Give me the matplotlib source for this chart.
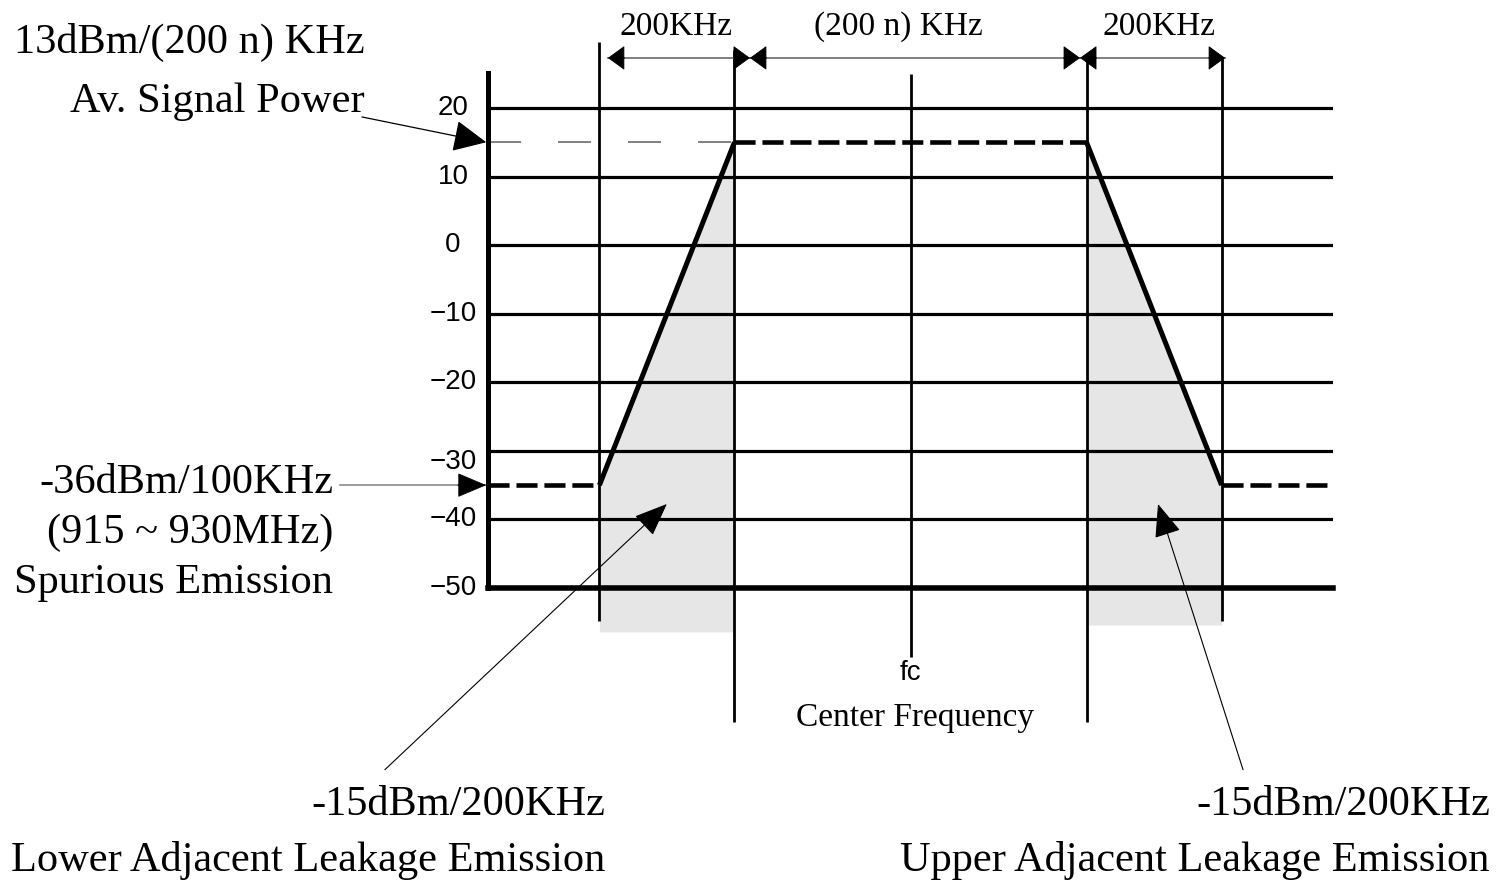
import matplotlib.pyplot as plt
from matplotlib.transforms import offset_copy

plt.rcParams['font.family'] = ['Liberation Serif', 'DejaVu Serif']

# уровни (дБм) и подписи оси
db_ticks = [20, 10, 0, -10, -20, -30, -40, -50]
db_labels = ['20', '10', '0', '\u221210', '\u221220', '\u221230', '\u221240', '\u221250']

# границы полос: нижняя внешняя, нижняя внутренняя, верхняя внутренняя, верхняя внешняя
band_edges = [-1.767, -1.0, 1.0, 1.767]
fc = 0.0
signal_level = 15
spurious_level = -35

band_labels = ['200KHz', '(200 n) KHz', '200KHz']

W, H = 1509, 881
fig = plt.figure(figsize=(W / 100, H / 100), dpi=100)
ax = fig.add_axes([488 / W, 1 - 588 / H, 845 / W, (588 - 73) / H])
x_lo, x_hi = -2.4, 2.4
ax.set_xlim(x_lo, x_hi)
ax.set_ylim(-50, 25.1)
ax.set_xticks([])
ax.set_yticks([])
for s in ['top', 'right']:
    ax.spines[s].set_visible(False)
ax.spines['left'].set_linewidth(3.6)
ax.spines['bottom'].set_linewidth(4.0)
ax.spines['left'].set_zorder(4)

# серые области утечки в соседние каналы
fill_col = '#e6e6e6'
ax.fill_between([band_edges[0], band_edges[1]], [spurious_level, signal_level], -56.4,
                color=fill_col, lw=0, zorder=0.5, clip_on=False)
ax.fill_between([band_edges[2], band_edges[3]], [signal_level, spurious_level], -55.4,
                color=fill_col, lw=0, zorder=0.5, clip_on=False)

# сетка
ax.hlines(db_ticks[:-1], x_lo, x_hi, colors='k', lw=2.3, zorder=2)
vx = band_edges + [fc]
v_top = [29.6, 28.5, 27.4, 27.4, 25.0]
v_bot = [-54.8, -69.5, -69.5, -54.8, -60.1]
vl = ax.vlines(vx, v_bot, v_top, colors='k', lw=2.0, zorder=2)
vl.set_clip_on(False)

# тонкая пунктирная линия уровня сигнала
ax.plot([x_lo, band_edges[1]], [signal_level, signal_level], color='#808080', lw=1.4,
        dashes=(17, 19), zorder=1.5)

# маска спектра
mask_x = [x_lo, band_edges[0], band_edges[1], band_edges[2], band_edges[3], x_hi]
mask_y = [spurious_level, spurious_level, signal_level, signal_level, spurious_level, spurious_level]
for i in range(len(mask_x) - 1):
    if i % 2 == 0:
        ax.plot(mask_x[i:i + 2], mask_y[i:i + 2], color='k', lw=3.3, dashes=(4.6, 1.5),
                dash_capstyle='butt', zorder=3)
    else:
        ax.plot(mask_x[i:i + 2], mask_y[i:i + 2], color='k', lw=3.6, solid_capstyle='butt', zorder=3)


def head(x, y, dx, dy, style):
    ax.annotate('', xy=(x, y), xytext=(dx, dy), textcoords='offset points',
                arrowprops=dict(arrowstyle=style, color='k', lw=0.6, shrinkA=0, shrinkB=0,
                                mutation_scale=10),
                annotation_clip=False, zorder=5)


# размерные стрелки сверху
dim_y = 27.3
dim_x = [-1.719, -0.912, 0.963, 1.787]
ax.plot([dim_x[0], dim_x[-1]], [dim_y, dim_y], color='#808080', lw=1.4, clip_on=False, zorder=2)
dim_style = '-|>,head_length=1.1,head_width=0.8'
for i in range(len(dim_x) - 1):
    head(dim_x[i], dim_y, 12, 0, dim_style)
    head(dim_x[i + 1], dim_y, -12, 0, dim_style)
label_x = [-1.33, -0.07, 1.41]
for lx, lab in zip(label_x, band_labels):
    ax.text(lx, 31.8, lab, ha='center', va='center', fontsize=24, clip_on=False)

# подписи оси
ytr = ax.get_yaxis_transform()
nudge = {-30: -11}
for v, lab in zip(db_ticks, db_labels):
    tr = offset_copy(ytr, fig=fig, x=0, y=nudge.get(v, 0), units='dots')
    ax.text(-35 / 845, v, lab, transform=tr, ha='center', va='center', fontsize=20,
            family=['Liberation Sans', 'DejaVu Sans'], clip_on=False)

# указатели
axis_edge = -2.41
ax.annotate('', xy=(axis_edge, signal_level), xytext=(-3.116, 18.69),
            arrowprops=dict(arrowstyle='-|>,head_length=2.1,head_width=1.0', color='k', lw=0.9,
                            shrinkA=0, shrinkB=0, mutation_scale=10),
            annotation_clip=False, zorder=5)
ax.plot([-3.241, axis_edge], [spurious_level, spurious_level], color='#808080', lw=1.1,
        clip_on=False, zorder=4)
head(axis_edge, spurious_level, -20.5, 0, '-|>,head_length=1.9,head_width=0.8')
ax.annotate('', xy=(-1.384, -37.75), xytext=(-2.986, -76.5),
            arrowprops=dict(arrowstyle='-|>,head_length=2.1,head_width=0.85', color='k', lw=0.8,
                            shrinkA=0, shrinkB=0, mutation_scale=10),
            annotation_clip=False, zorder=5)
ax.annotate('', xy=(1.406, -37.75), xytext=(1.889, -76.5),
            arrowprops=dict(arrowstyle='-|>,head_length=2.1,head_width=0.85', color='k', lw=0.8,
                            shrinkA=0, shrinkB=0, mutation_scale=10),
            annotation_clip=False, zorder=5)


def ftext(x, y, s, **kw):
    fig.text(x / W, 1 - y / H, s, va='center', **kw)


ftext(365, 42, '13dBm/(200 n) KHz', ha='right', fontsize=30.5)
ftext(365, 102, 'Av. Signal Power', ha='right', fontsize=30.5)
ftext(333, 483, '-36dBm/100KHz', ha='right', fontsize=30.5)
ftext(333, 533, '(915 ~ 930MHz)', ha='right', fontsize=30.5)
ftext(333, 583, 'Spurious Emission', ha='right', fontsize=30.5)
ftext(605, 805, '-15dBm/200KHz', ha='right', fontsize=30.5)
ftext(605, 860, 'Lower Adjacent Leakage Emission', ha='right', fontsize=30.5)
ftext(1490, 805, '-15dBm/200KHz', ha='right', fontsize=30.5)
ftext(1490, 860, 'Upper Adjacent Leakage Emission', ha='right', fontsize=30.5)
ftext(910, 673, 'fc', ha='center', fontsize=20, family=['Liberation Sans', 'DejaVu Sans'])
ftext(915, 718, 'Center Frequency', ha='center', fontsize=24)

fig.savefig('out.png', dpi=100)
